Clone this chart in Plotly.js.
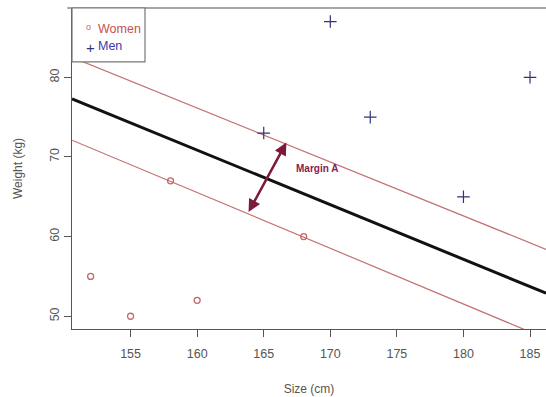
<!DOCTYPE html>
<html><head><meta charset="utf-8">
<script src="https://cdn.plot.ly/plotly-3.0.1.min.js"></script>
<style>html,body{margin:0;padding:0;background:#fff}#c{width:546px;height:397px}</style>
</head><body><div id="c"></div>
<script>
var womenX = [152, 155, 158, 160, 168];
var womenY = [55, 50, 67, 52, 60];
var menX = [165, 170, 173, 180, 185];
var menY = [73, 87, 75, 65, 80];
var lineX = [150.6, 186.2];
var hyperY = [77.3, 52.9];
var upperY = [82.5, 58.4];
var lowerY = [72.1, 47.2];
var arrowFrom = [163.8, 62.9];
var arrowTo = [166.7, 71.8];
var xTicks = [155, 160, 165, 170, 175, 180, 185];
var yTicks = [50, 60, 70, 80];
var legendNames = ['Women', 'Men'];

var traces = [
  {x: lineX, y: upperY, mode: 'lines', line: {color: '#c47070', width: 1.2}, hoverinfo: 'skip'},
  {x: lineX, y: lowerY, mode: 'lines', line: {color: '#c47070', width: 1.2}, hoverinfo: 'skip'},
  {x: lineX, y: hyperY, mode: 'lines', line: {color: '#111', width: 3}, hoverinfo: 'skip'},
  {x: womenX, y: womenY, mode: 'markers', name: legendNames[0],
   marker: {symbol: 'circle-open', size: 6, color: '#c06a6a', line: {width: 1.3}}},
  {x: menX, y: menY, mode: 'markers', name: legendNames[1],
   marker: {symbol: 'cross-thin-open', size: 9, color: '#33337a', line: {width: 1.2, color: '#33337a'}}}
];
var layout = {
  width: 546, height: 397,
  margin: {l: 72, r: 0, t: 8, b: 68},
  paper_bgcolor: '#fff', plot_bgcolor: '#fff',
  font: {family: 'Liberation Sans, Arial, sans-serif', color: '#444', size: 12},
  showlegend: false,
  xaxis: {range: [150.6, 186.2], tickvals: xTicks, showgrid: false, zeroline: false,
          showline: true, linecolor: '#555', linewidth: 1.2, ticks: 'outside', ticklen: 7, tickcolor: '#555',
          ticklabelstandoff: 6,
          tickfont: {size: 12.5, color: '#555'},
          title: {text: 'Size (cm)', font: {size: 12, color: '#555'}, standoff: 24}},
  yaxis: {range: [48.4, 88.7], tickvals: yTicks, showgrid: false, zeroline: false,
          showline: true, linecolor: '#555', linewidth: 1.2, ticks: 'outside', ticklen: 7, tickcolor: '#555',
          tickangle: -90, tickfont: {size: 12.5, color: '#555'},
          title: {text: 'Weight (kg)', font: {size: 12, color: '#555'}, standoff: 22}},
  shapes: [
    {type: 'line', xref: 'paper', yref: 'paper', x0: -0.01, x1: 1, y0: 1, y1: 1, line: {color: '#888', width: 1.5}},
    {type: 'rect', xref: 'paper', yref: 'paper', x0: 0, x1: 0.154, y0: 0.832, y1: 1, fillcolor: '#fff', line: {color: '#777', width: 1.2}, layer: 'above'}
  ],
  annotations: [
    {x: arrowTo[0], y: arrowTo[1], ax: arrowFrom[0], ay: arrowFrom[1], xref: 'x', yref: 'y', axref: 'x', ayref: 'y',
     showarrow: true, arrowhead: 2, startarrowhead: 2, arrowside: 'end+start', arrowwidth: 2.5, arrowsize: 1,
     arrowcolor: '#7b1a3e', text: ''},
    {x: 169, y: 68.5, xref: 'x', yref: 'y', text: '<b>Margin A</b>', showarrow: false,
     font: {size: 10, color: '#8b2050'}},
    {x: 0.025, y: 0.962, xref: 'paper', yref: 'paper', text: 'o', showarrow: false, font: {size: 9, color: '#c06a6a'}},
    {x: 0.05, y: 0.962, xref: 'paper', yref: 'paper', xanchor: 'left', text: legendNames[0], showarrow: false, font: {size: 12.5, color: '#c8504f'}},
    {x: 0.025, y: 0.91, xref: 'paper', yref: 'paper', text: '+', showarrow: false, font: {size: 15, color: '#33337a'}},
    {x: 0.05, y: 0.91, xref: 'paper', yref: 'paper', xanchor: 'left', text: legendNames[1], showarrow: false, font: {size: 12.5, color: '#3a3aa8'}}
  ]
};
Plotly.newPlot('c', traces, layout, {displayModeBar: false, staticPlot: true});
</script></body></html>
